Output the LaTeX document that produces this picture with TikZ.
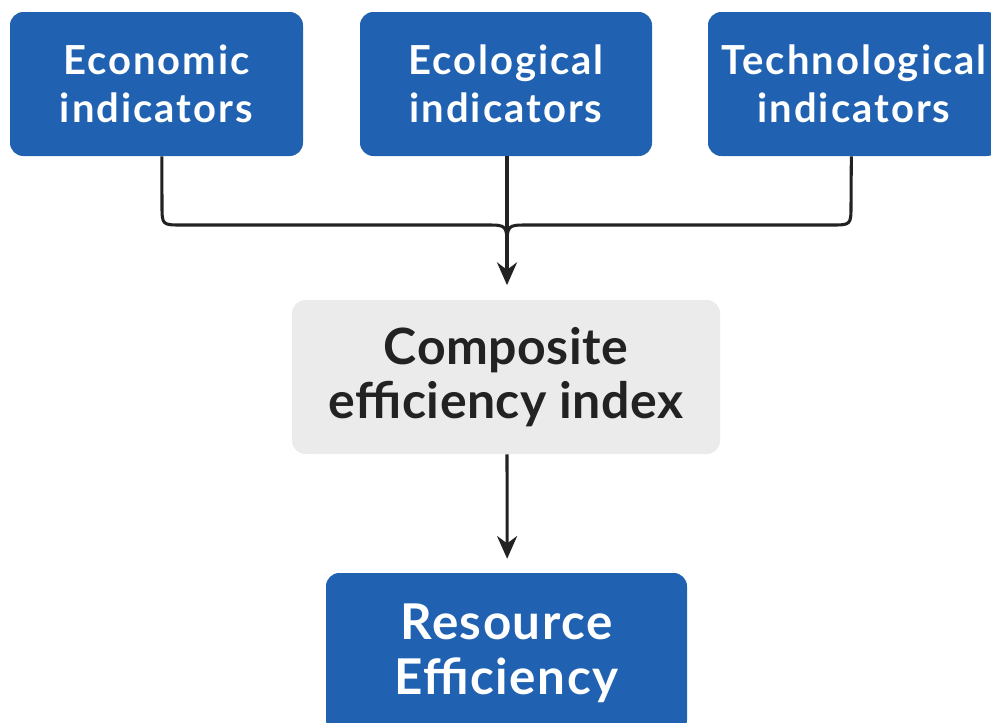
\documentclass[tikz,border=0pt]{standalone}
\usepackage{fontspec}
\setmainfont{Lato}
\usetikzlibrary{arrows.meta}

\definecolor{boxblue}{HTML}{2062B1}
\definecolor{boxgray}{HTML}{EBEBEB}
\definecolor{inkdark}{HTML}{222222}

\tikzset{
  bluebox/.style={draw=none, fill=boxblue, rounded corners=10pt, text=white,
    align=center, inner sep=0pt,
    font=\fontsize{30}{36}\selectfont\bfseries\addfontfeature{LetterSpace=5}},
  graybox/.style={draw=none, fill=boxgray, rounded corners=10pt, text=inkdark,
    align=center, inner sep=0pt,
    font=\fontsize{37.5}{40}\selectfont\bfseries\addfontfeature{LetterSpace=1}},
  finalbox/.style={bluebox,
    font=\fontsize{37}{41}\selectfont\bfseries\addfontfeature{LetterSpace=3}},
  wire/.style={draw=inkdark, line width=2.3pt, line join=round},
  tip/.style={-{Stealth[length=17pt, width=15pt, inset=5.5pt]}}
}

\begin{document}
\begin{tikzpicture}[x=0.75pt, y=-0.75pt]
  \useasboundingbox (0,0) rectangle (991,722);
  \fill[white] (0,0) rectangle (991,722);

  % indicator groups
  \node[bluebox, minimum width=219.75pt, minimum height=108pt] (econ) at (156.5,84)
    {Economic\\indicators};
  \node[bluebox, minimum width=219pt, minimum height=108pt] (ecol) at (506,84)
    {Ecological\\indicators};
  \node[bluebox, minimum width=219pt, minimum height=108pt] (tech) at (854,84)
    {Technological\\indicators};

  % aggregated index
  \node[graybox, minimum width=321pt, minimum height=115.5pt] (comp) at (506,377)
    {Composite\\efficiency index};

  % outcome
  \node[finalbox, minimum width=270.75pt, minimum height=120pt] (res) at (506.5,653)
    {Resource\\Efficiency};

  % merging connectors
  \coordinate (join) at (507,250);
  \draw[wire] ([xshift=4pt]econ.south) -- (162,205) .. controls (162,225) .. (182,225)
    -- (487,225) .. controls (507,225) .. (join);
  \draw[wire] ([xshift=-2pt]tech.south) -- (851,205) .. controls (851,225) .. (831,225)
    -- (527,225) .. controls (507,225) .. (join);
  \draw[wire, tip, shorten >=11pt] ([xshift=0.75pt]ecol.south) -- ([xshift=0.75pt]comp.north);

  \draw[wire, tip, shorten >=10.5pt] ([xshift=0.75pt]comp.south) -- ([xshift=0.5pt]res.north);
\end{tikzpicture}
\end{document}
